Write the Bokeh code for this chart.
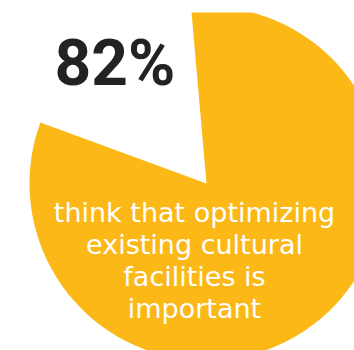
import math
from bokeh.plotting import figure
from bokeh.models import Range1d, ColumnDataSource
from bokeh.core.properties import value
from bokeh.embed import file_html
from bokeh.resources import INLINE

# ---- data ----
categories = ["other", "optimizing existing facilities important"]
shares = [18, 82]
slice_colors = ["#FFFFFF", "#FBB817"]
headline = "82%"
caption_lines = ["think that optimizing", "existing cultural", "facilities is", "important"]

# ---- layout (image px -> data: x same, y = 350 - image_y) ----
W, H = 354, 350
TOP = 12
p = figure(width=W, height=H, output_backend="svg", toolbar_location=None,
           x_range=Range1d(0, W), y_range=Range1d(0, H - TOP),
           min_border=0, min_border_top=TOP, outline_line_color=None,
           background_fill_color="white", border_fill_color="white")
p.axis.visible = False
p.grid.visible = False

cx, cy, r = 206, 350 - 183, 177
start = math.radians(95.0)
total = sum(shares)
starts, ends = [], []
a = start
for s in shares:
    starts.append(a)
    a += 2 * math.pi * s / total
    ends.append(a)

src = ColumnDataSource(dict(cat=categories, share=shares, color=slice_colors,
                            start=starts, end=ends))
p.wedge(x=cx, y=cy, radius=r, start_angle="start", end_angle="end",
        fill_color="color", line_color=None, source=src)

p.text(x=[54], y=[350 - 63], text=[headline], text_font=value("Roboto"),
       text_font_style="bold", text_font_size="64px", text_color="#232323",
       text_align="left", text_baseline="alphabetic")

base = 350 - 212
ys = [base - i * 32 for i in range(len(caption_lines))]
p.text(x=[194] * len(caption_lines), y=ys, text=caption_lines,
       text_font=value("DejaVu Sans"), text_font_size="27px", text_color="white",
       text_align="center", text_baseline="alphabetic")

open("out.html", "w").write(file_html(p, INLINE))
